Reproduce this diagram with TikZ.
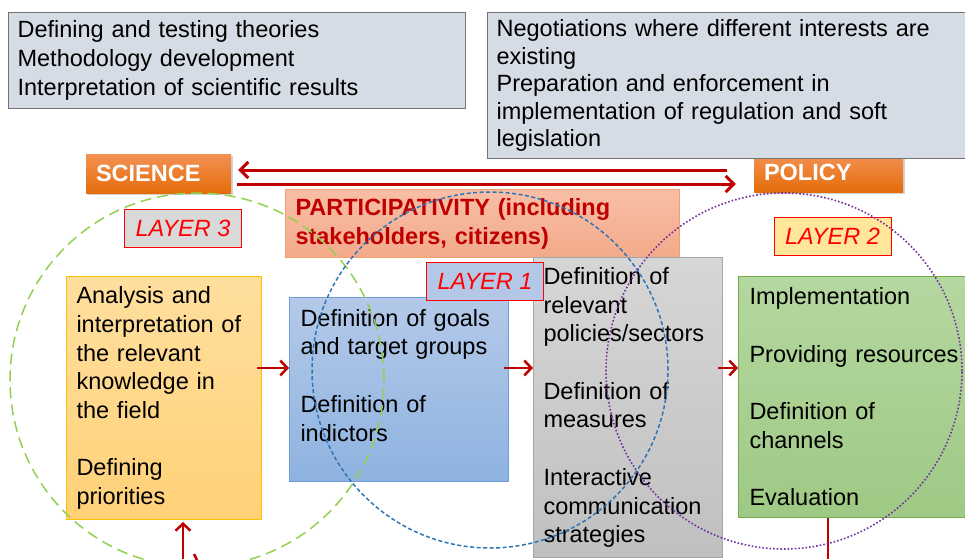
\documentclass[tikz,border=0pt]{standalone}
\usepackage{fontspec}
\setmainfont{Liberation Sans}
\usetikzlibrary{arrows.meta,shadows}
\definecolor{darkred}{HTML}{C00000}
\definecolor{slate}{HTML}{D6DCE5}
\definecolor{ringgreen}{HTML}{92D050}
\definecolor{ringblue}{HTML}{2E75B6}
\definecolor{ringpurple}{HTML}{7030A0}
\tikzstyle{notebox}=[draw=black!55, fill=slate, line width=1.2pt, anchor=north west,
  align=left, inner xsep=9pt, inner ysep=0pt]
\tikzstyle{headbox}=[top color={rgb,255:red,243;green,146;blue,84},
  bottom color={rgb,255:red,228;green,108;blue,10}, draw=none,
  text=white, align=left, inner xsep=10pt, inner ysep=0pt, minimum height=39pt,
  font=\fontsize{23.5}{28}\selectfont\bfseries,
  drop shadow={shadow xshift=2pt, shadow yshift=-2pt, opacity=.35}]
\tikzstyle{stage}=[anchor=north west, align=left, inner xsep=10pt, inner ysep=0pt,
  line width=1pt, font=\fontsize{23.5}{28.7}\selectfont]
\tikzstyle{layertag}=[draw=red, line width=1pt, text=red, minimum width=117pt,
  minimum height=38pt, inner sep=0pt, font=\fontsize{23.5}{28}\selectfont\itshape]
\tikzstyle{flow}=[draw=darkred, line width=2.5pt, -{Straight Barb[length=7pt,width=15pt]},
  shorten <=-5pt]
\tikzstyle{link}=[draw=darkred, line width=3pt, -{Straight Barb[length=8pt,width=16pt]}]

\begin{document}
\begin{tikzpicture}[x=1pt, y=-1pt]
  \useasboundingbox (0,0) rectangle (965,559);

  % roles of the two sides
  \node[notebox, minimum width=457pt, minimum height=96pt, text width=439pt,
    font=\fontsize{23.5}{29}\selectfont] (theory) at (8,12)
    {Defining and testing theories\\Methodology development\\Interpretation of scientific results};
  \node[headbox, text width=129pt] (policy) at (828.5,172.5) {POLICY};
  \node[notebox, minimum width=480pt, minimum height=146pt, text width=462pt,
    font=\fontsize{23.5}{27.5}\selectfont] (practice) at (487,12)
    {Negotiations where different interests are\\existing\\Preparation and enforcement in\\
     implementation of regulation and soft\\legislation};
  \node[headbox, text width=125pt] (science) at (158.5,173.5) {SCIENCE};

  \node[stage, minimum width=394pt, minimum height=68pt, text width=374pt,
    top color={rgb,255:red,248;green,190;blue,166}, bottom color={rgb,255:red,243;green,170;blue,138},
    draw={rgb,255:red,240;green,160;blue,110},
    text=darkred, font=\fontsize{23.5}{29}\selectfont\bfseries] (partic) at (285,189)
    {PARTICIPATIVITY (including\\stakeholders, citizens)};

  % the four stages
  \node[stage, minimum width=195pt, minimum height=243pt, text width=175pt,
    top color={rgb,255:red,255;green,223;blue,158}, bottom color={rgb,255:red,255;green,209;blue,120},
    draw={rgb,255:red,255;green,192;blue,0}] (analysis) at (66,276)
    {Analysis and\\interpretation of\\the relevant\\knowledge in\\the field\\[28.7pt]Defining\\priorities};
  \node[stage, minimum width=219pt, minimum height=184pt, text width=197pt, inner xsep=11pt,
    top color={rgb,255:red,180;green,201;blue,233}, bottom color={rgb,255:red,142;green,179;blue,224},
    draw={rgb,255:red,110;green,158;blue,213}] (goals) at (289,297)
    {Definition of goals\\and target groups\\[28.7pt]Definition of\\indictors\\ \mbox{}};
  \node[stage, minimum width=189pt, minimum height=300pt, text width=169pt,
    top color={rgb,255:red,214;green,214;blue,214}, bottom color={rgb,255:red,192;green,192;blue,192},
    draw={rgb,255:red,166;green,166;blue,166}] (measures) at (533,257)
    {Definition of\\relevant\\policies/sectors\\[28.7pt]Definition of\\measures\\[28.7pt]Interactive\\communication\\strategies};
  \node[stage, minimum width=240pt, minimum height=241pt, text width=218pt, inner xsep=11pt,
    top color={rgb,255:red,181;green,215;blue,160}, bottom color={rgb,255:red,158;green,201;blue,132},
    draw={rgb,255:red,112;green,173;blue,71}] (channels) at (738,276)
    {Implementation\\[28.7pt]Providing resources\\[28.7pt]Definition of\\channels\\[28.7pt]Evaluation};

  \node[layertag, fill={rgb,255:red,217;green,217;blue,217}] (layer3) at (183,228.5) {LAYER 3};
  \node[layertag, fill={rgb,255:red,255;green,230;blue,153}] (layer2) at (832.5,236.5) {LAYER 2};
  \node[layertag, fill={rgb,255:red,180;green,199;blue,231}] (layer1) at (485,281) {LAYER 1};

  % connectors
  \coordinate (back) at (0,170);
  \coordinate (fwd) at (0,184);
  \coordinate (row) at (0,368);
  \coordinate (feed) at (183,559);
  \coordinate (out) at (828,559);
  \coordinate (stub) at (194,554);
  \coordinate (stubend) at (197,560);
  \draw[link, shorten <=27pt, shorten >=7pt] (policy.west |- back) -- (science.east |- back);
  \draw[link, shorten <=6pt, shorten >=18pt] (science.east |- fwd) -- (policy.west |- fwd);
  \draw[flow] (analysis.east |- row) -- (goals.west |- row);
  \draw[flow] (goals.east |- row) -- (measures.west |- row);
  \draw[flow] (measures.east |- row) -- (channels.west |- row);
  \draw[flow, shorten <=0pt, shorten >=2pt] (feed) -- (feed |- analysis.south);
  \draw[darkred, line width=2.5pt] (stub) -- (stubend);
  \draw[darkred, line width=2.5pt] (channels.south -| out) -- (out);

  % the three layers
  \draw[ringgreen, line width=1.5pt, dash pattern=on 11pt off 6pt] (197,380) circle[radius=187pt];
  \draw[ringblue, line width=1.5pt, dash pattern=on 4pt off 2.5pt] (490,370) circle[radius=178pt];
  \draw[ringpurple, line width=1.6pt, dash pattern=on 1.6pt off 2pt] (784,371) circle[radius=178pt];
\end{tikzpicture}
\end{document}
